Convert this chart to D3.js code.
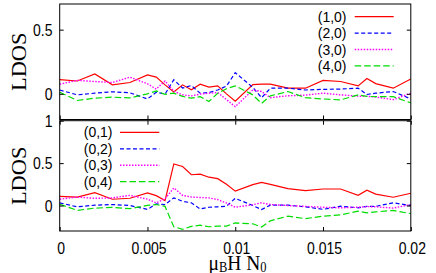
<!DOCTYPE html>
<html>
<head>
<meta charset="utf-8">
<script src="https://cdn.jsdelivr.net/npm/d3@7"></script>
<style>
  body { margin: 0; background: #fff; }
  svg { display: block; }
</style>
</head>
<body>
<div id="chart"></div>
<script>
// field values (x axis) shared by all curves
var xs = [0, 0.001, 0.002, 0.003, 0.004, 0.005, 0.0055, 0.006, 0.0065, 0.007, 0.0075, 0.008, 0.0085, 0.009,
          0.0095, 0.01, 0.011, 0.0115, 0.012, 0.013, 0.014, 0.015, 0.016, 0.017, 0.0175, 0.018, 0.019, 0.02];

// upper panel : sites (n,0)
var topRed     = [0.11,0.10,0.155,0.07,0.088,0.148,0.13,0.07,0.015,0.07,0.031,0.075,0.052,0.062,0.0,-0.058,0.072,0.075,0.075,0.044,0.044,0.105,0.096,0.062,0.12,0.08,0.044,0.115];
var topBlue    = [0.03,-0.008,0.005,0.016,0.008,-0.04,0.013,-0.002,0.11,0.045,0.065,0.005,0.01,0.03,0.06,0.165,0.05,-0.03,0.044,0.044,0.03,0.035,0.037,0.044,-0.005,0.005,0.018,-0.04];
var topMagenta = [0.075,0.105,0.096,0.088,0.13,0.078,0.037,0.10,0.02,-0.008,-0.016,-0.002,0.005,0.01,-0.045,-0.1,0.03,0.018,-0.03,-0.015,-0.01,0.005,-0.008,-0.018,-0.02,-0.025,-0.045,0.005];
var topGreen   = [0.012,-0.052,-0.034,-0.026,-0.032,0.0,0.023,-0.004,0.005,-0.02,-0.034,-0.022,-0.06,0.005,0.04,0.062,-0.008,-0.075,-0.016,0.018,-0.03,-0.04,-0.047,-0.008,-0.02,-0.022,-0.022,-0.07];

// lower panel : sites (0,n)
var botRed     = [0.109,0.1,0.152,0.074,0.086,0.148,0.117,0.059,0.49,0.46,0.363,0.37,0.334,0.317,0.25,0.17,0.246,0.272,0.25,0.2,0.176,0.195,0.195,0.121,0.18,0.135,0.098,0.145];
var botBlue    = [0.032,-0.015,0.004,0.012,0.0,-0.045,0.02,0.012,0.09,0.05,0.032,-0.04,-0.02,-0.015,-0.008,0.085,0.0,-0.047,0.005,0.004,-0.015,-0.045,-0.008,-0.027,-0.01,-0.01,0.032,0.0];
var botMagenta = [0.075,0.1,0.085,0.09,0.12,0.075,0.032,0.08,0.207,0.12,0.1,0.095,0.09,0.07,0.03,-0.02,0.01,0.032,0.012,0.0,-0.01,-0.02,-0.027,-0.02,-0.012,-0.015,-0.03,0.012];
var botGreen   = [0.015,-0.057,-0.03,-0.022,-0.037,0.002,0.012,-0.01,-0.25,-0.28,-0.245,-0.232,-0.25,-0.243,-0.243,-0.205,-0.215,-0.254,-0.18,-0.125,-0.155,-0.125,-0.11,-0.067,-0.086,-0.075,-0.058,-0.095];

var topLabels = ["(1,0)", "(2,0)", "(3,0)", "(4,0)"];
var botLabels = ["(0,1)", "(0,2)", "(0,3)", "(0,4)"];
var xTicks = [0, 0.005, 0.01, 0.015, 0.02];
var xTickLabels = ["0", "0.005", "0.01", "0.015", "0.02"];
var topYTicks = [0, 0.5];
var botYTicks = [0, 0.5, 1];

var W = 436, H = 273;
var colors = ["#ff0000", "#0000ff", "#ff00ff", "#00dd00"];
var dashes = [null, "4,2.5", "1.5,1.5", "6.5,3"];
var widths = [1.2, 1.2, 1.4, 1.2];
var sansFont = "'Liberation Sans', Arial, sans-serif";
var serifFont = "'Liberation Serif', 'Times New Roman', serif";
var SY = 1.2; // the source figure is stretched vertically

var svg = d3.select("#chart").append("svg").attr("width", W).attr("height", H);

var x = d3.scaleLinear().domain([0, 0.02]).range([59.7, 410.8]);

// helper for stretched text
function label(g, tx, ty, str, size, anchor, font, rot, sy) {
  var s = sy || SY;
  var t = g.append("text")
    .attr("transform", "translate(" + tx + "," + ty + ")" + (rot ? " rotate(-90) scale(" + (s - 0.08) + ",1)" : " scale(1," + s + ")"))
    .attr("text-anchor", anchor)
    .attr("font-family", font)
    .attr("font-size", size)
    .attr("fill", "#000")
    .text(str);
  return t;
}

function panel(y, series, names, yTicks, legX, legY, legLineX0, legLineX1, showXLabels) {
  var g = svg.append("g");
  var y0 = y.range()[0], y1 = y.range()[1];

  var line = d3.line().x(function(d, i){ return x(xs[i]); }).y(function(d){ return y(d); });
  series.forEach(function(vals, k){
    g.append("path").datum(vals)
      .attr("d", line)
      .attr("fill", "none")
      .attr("stroke", colors[k])
      .attr("stroke-width", widths[k])
      .attr("stroke-dasharray", dashes[k]);
  });

  // inward ticks
  var ax = [
    [d3.axisTop(x).tickValues(xTicks), "translate(0," + y0 + ")"],
    [d3.axisRight(y).tickValues(yTicks), "translate(" + x.range()[0] + ",0)"],
    [d3.axisLeft(y).tickValues(yTicks), "translate(" + x.range()[1] + ",0)"]
  ];
  ax.forEach(function(a){
    var s = g.append("g").attr("transform", a[1])
      .call(a[0].tickSize(4).tickSizeOuter(0).tickFormat(""));
    s.select(".domain").remove();
    s.selectAll("line").attr("stroke", "#000");
  });
  if (showXLabels) {
    var s = g.append("g").attr("transform", "translate(0," + y1 + ")")
      .call(d3.axisBottom(x).tickValues(xTicks).tickSize(4).tickSizeOuter(0).tickFormat(""));
    s.select(".domain").remove();
    s.selectAll("line").attr("stroke", "#000");
  }

  g.append("rect")
    .attr("x", x.range()[0]).attr("y", y1)
    .attr("width", x.range()[1] - x.range()[0]).attr("height", y0 - y1)
    .attr("fill", "none").attr("stroke", "#000").attr("stroke-width", 1);

  yTicks.forEach(function(v){
    label(g, 52.5, y(v) + 6, String(v), 14, "end", sansFont);
  });

  names.forEach(function(n, k){
    var ly = legY + k * 16.4;
    label(g, legX, ly + 5, n, 14, "end", sansFont, false, 1.08);
    g.append("line")
      .attr("x1", legLineX0).attr("x2", legLineX1)
      .attr("y1", ly).attr("y2", ly)
      .attr("stroke", colors[k]).attr("stroke-width", widths[k])
      .attr("stroke-dasharray", dashes[k]);
  });

  label(g, 25.5, (y0 + y1) / 2, "LDOS", 20, "middle", serifFont, true);
  return g;
}

var yTop = d3.scaleLinear().domain([-0.2, 0.7]).range([119.5, 4]);
var yBot = d3.scaleLinear().domain([-0.3, 1]).range([231, 120.7]);

panel(yTop, [topRed, topBlue, topMagenta, topGreen], topLabels, topYTicks, 346.5, 16.7, 354.7, 393.7, false);
panel(yBot, [botRed, botBlue, botMagenta, botGreen], botLabels, botYTicks, 112.5, 132.4, 120, 159.3, true);

// x tick labels
xTicks.forEach(function(v, i){
  label(svg, x(v) + 1.5, 253.5, xTickLabels[i], 14, "middle", sansFont);
});

// x axis title  mu_B H N_0
var t = svg.append("text")
  .attr("transform", "translate(208.5,269.5) scale(1,1.12)")
  .attr("font-family", serifFont)
  .attr("font-size", 19.5)
  .attr("fill", "#000");
t.append("tspan").text("μ");
t.append("tspan").attr("font-size", 12.5).attr("dy", 2.5).text("B");
t.append("tspan").attr("dy", -2.5).text("H N");
t.append("tspan").attr("font-size", 12.5).attr("dy", 2.5).text("0");
</script>
</body>
</html>
